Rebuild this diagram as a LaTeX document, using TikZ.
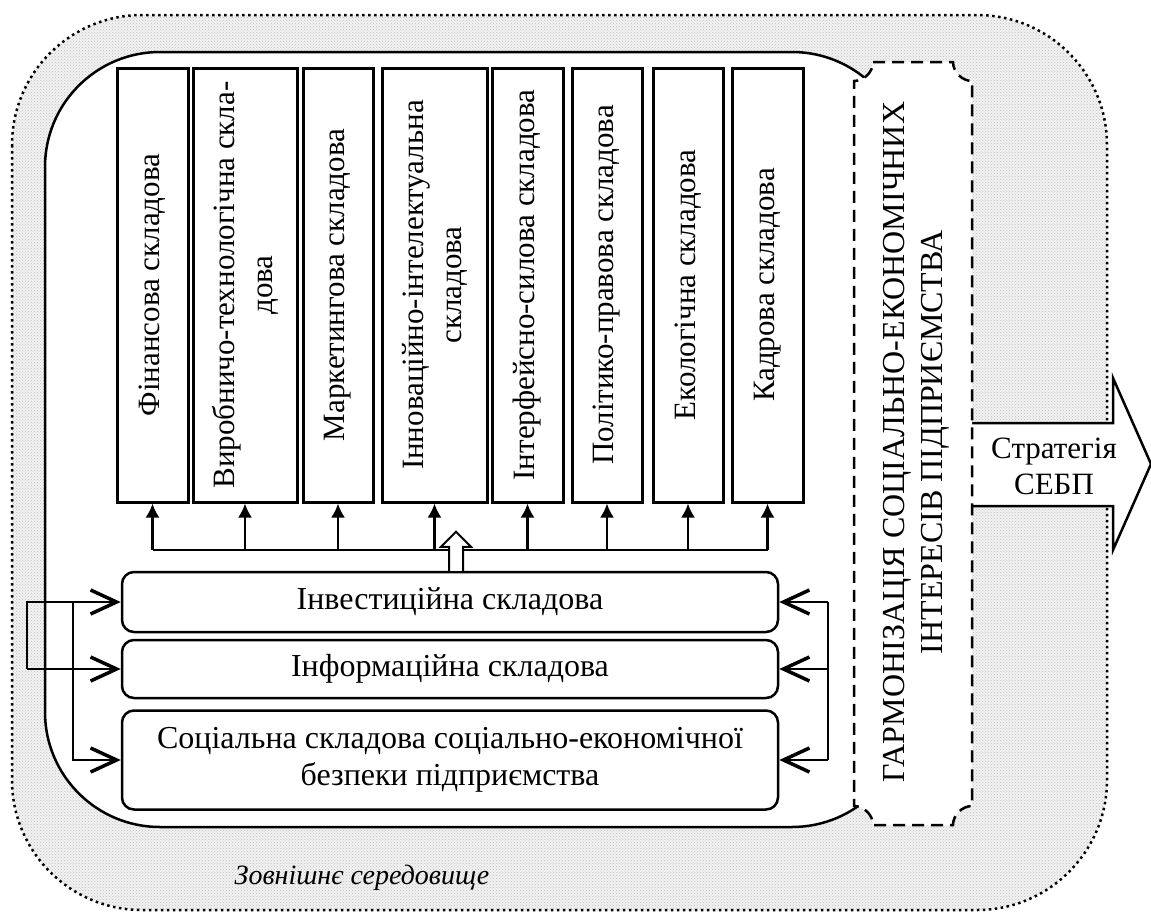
\documentclass[tikz,border=0pt]{standalone}
\usepackage{fontspec}
\setmainfont{Liberation Serif}
\usepackage{tikz}
\usetikzlibrary{calc, patterns, arrows.meta}

\tikzset{
	vbox/.style = {draw, line width = 3pt, fill = white, rotate = 90, minimum width = 434pt, inner sep = 0pt, align = center, font = \fontsize{31}{38}\selectfont},
	hbox/.style = {draw, line width = 2.5pt, fill = white, rounded corners = 12pt, minimum width = 656pt, inner sep = 0pt, align = center, font = \fontsize{32}{37}\selectfont},
	feed/.style = {line width = 2.5pt, -{Straight Barb[length = 26pt, width = 24pt, line width = 3.5pt]}},
}

\begin{document}
\begin{tikzpicture}[x = 1pt, y = -1pt]
							\useasboundingbox (0,0) rectangle (1151,913);
				
							% outer environment
							\fill [gray!10, rounded corners = 130] (12,15) rectangle (1107,910);
							\fill [pattern = crosshatch dots, pattern color = gray!50, rounded corners = 130] (12,15) rectangle (1107,910);
							\draw [line width = 2.5pt, dash pattern = on 2.5pt off 3.5pt, rounded corners = 130] (12,15) rectangle (1107,910);
							\node [font = \itshape\fontsize{28}{34}\selectfont] (env) at (362,878) {Зовнішнє середовище};
				
							% enterprise
							\draw [line width = 2.5pt, fill = white, rounded corners = 115] (45,52) rectangle (907,827);
				
							% strategy arrow
							\draw [line width = 2.5pt, fill = white] (960,423) -- (1113,423) -- (1113,378) -- (1151,464) -- (1113,550) -- (1113,506) -- (960,506);
							\node [font = \fontsize{31}{36}\selectfont, align = center] (strat) at (1054,466) {Стратегія\\СЕБП};
				
							% harmonisation
							\draw [line width = 2.5pt, dash pattern = on 12pt off 7pt, fill = white]
								(873,62) -- (953,62) .. controls (953,72) and (962,81) .. (972,81)
								-- (972,806) .. controls (962,806) and (953,815) .. (953,825)
								-- (873,825) .. controls (873,815) and (864,806) .. (854,806)
								-- (854,81) .. controls (864,81) and (873,72) .. (873,62) -- cycle;
							\node [rotate = 90, align = center, font = \fontsize{32}{38}\selectfont] (harm) at (916,442) {ГАРМОНІЗАЦІЯ СОЦІАЛЬНО-ЕКОНОМІЧНИХ\\ІНТЕРЕСІВ ПІДПРИЄМСТВА};
				
							% components
							\foreach \n/\x/\w/\t in {1/152.5/71/{Фінансова складова}, 2/245/104/{Виробничо-технологічна скла-\\дова}, 3/338/70/{Маркетингова складова}, 4/434.5/105/{Інноваційно-інтелектуальна\\складова}, 5/527.5/71/{Інтерфейсно-силова складова}, 6/607/70/{Політико-правова складова}, 7/688/70/{Екологічна складова}, 8/767.5/71/{Кадрова складова}}
							{
								\node [vbox, minimum height = \w] (b\n) at (\x,285) {\t};
							}
				
							\coordinate (bus) at (0,550);
							\draw [line width = 2.5pt] (b1.west |- bus) -- (b8.west |- bus);
							\foreach \n in {1,...,8}
							{
								\draw [line width = 2.5pt, -{Latex[length = 14pt, width = 14pt]}] (b\n.west |- bus) -- (b\n.west);
							}
				
							\node [hbox, minimum height = 60] (inv) at (450,602) {Інвестиційна складова};
							\node [hbox, minimum height = 58] (info) at (450,669) {Інформаційна складова};
							\node [hbox, minimum height = 99] (soc) at (450,760) {Соціальна складова соціально-економічної\\безпеки підприємства};
				
							% hollow arrow up
							\draw [line width = 2pt, fill = white] ([xshift = -1pt]inv.north) -- ++(0,-24) -- ++(-8,0) -- ++(15,-15) -- ++(15,15) -- ++(-8,0) -- ++(0,24);
				
							% feedback
							\coordinate (lx) at (27,0);
							\coordinate (mx) at (73,0);
							\coordinate (rx) at (828,0);
							\begin{scope}[feed]
								\draw (lx |- info.west) -- (lx |- inv.west) -- (inv.west);
								\draw (lx |- info.west) -- (info.west);
								\draw (mx |- inv.west) -- (mx |- soc.west) -- (soc.west);
								\foreach \b in {inv, info, soc}
								{
									\draw (rx |- \b.east) -- (\b.east);
								}
							\end{scope}
							\draw [line width = 2.5pt] (rx |- inv.east) -- (rx |- soc.east);
						\end{tikzpicture}
\end{document}
